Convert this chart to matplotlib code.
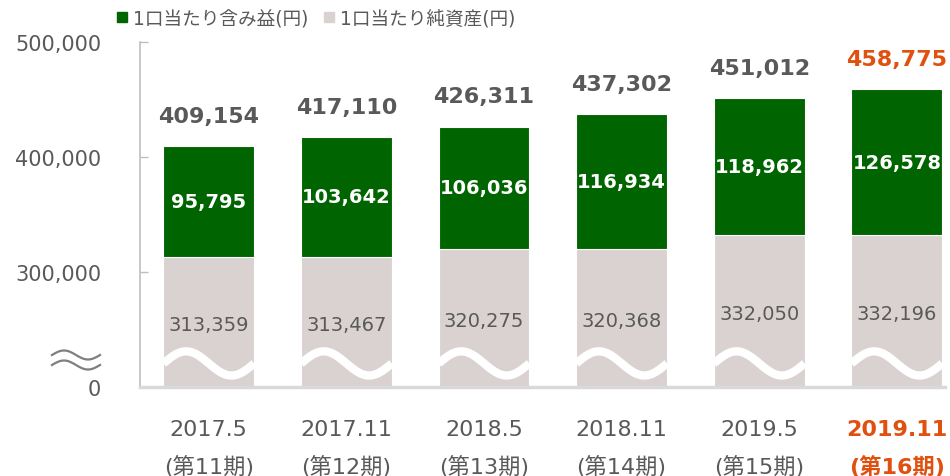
#!/usr/bin/env python3
# Per-unit NAV and unrealized gain, stacked bars with a broken y axis.
import numpy as np
import matplotlib
matplotlib.use("Agg")
import matplotlib.pyplot as plt
from matplotlib.lines import Line2D

plt.rcParams["font.family"] = ["DejaVu Sans", "Noto Sans CJK JP"]

dates = ["2017.5", "2017.11", "2018.5", "2018.11", "2019.5", "2019.11"]
periods = ["(第11期)", "(第12期)", "(第13期)", "(第14期)", "(第15期)", "(第16期)"]
nav = [313359, 313467, 320275, 320368, 332050, 332196]
gain = [95795, 103642, 106036, 116934, 118962, 126578]
total = [409154, 417110, 426311, 437302, 451012, 458775]

# value drawn at the "0" tick (axis is broken below 300,000)
base = 200000
yticks = [base, 300000, 400000, 500000]
ytick_labels = ["0", "300,000", "400,000", "500,000"]

GREEN = "#006400"
GRAY = "#D9D2D0"
TEXT = "#595959"
ORANGE = "#E0500F"

fig = plt.figure(figsize=(9.5, 4.77), dpi=100)
ax = fig.add_axes([140 / 950, 89 / 477, 805 / 950, 345 / 477])

x = np.arange(len(dates))
width = 0.66
nav_h = [v - base for v in nav]
ax.bar(x, nav_h, width, bottom=base, color=GRAY, edgecolor="white", linewidth=0.8, zorder=2)
ax.bar(x, gain, width, bottom=nav, color=GREEN, edgecolor="white", linewidth=0.8, zorder=2)

# white wavy break line through each bar
t = np.linspace(0, 1, 120)
for xi in x:
    xs = xi - width / 2 + t * width
    ys = 220500 + 10500 * np.sin(2 * np.pi * t)
    ax.plot(xs, ys, color="white", lw=6, solid_capstyle="butt", zorder=3)

for i in range(len(x)):
    last = i == len(x) - 1
    ax.annotate(f"{total[i]:,}", (x[i], total[i]), xytext=(0, 22), textcoords="offset points",
                ha="center", va="center", fontsize=16, fontweight="bold",
                color=ORANGE if last else TEXT)
    ax.text(x[i], nav[i] + gain[i] / 2, f"{gain[i]:,}", ha="center", va="center",
            fontsize=14, fontweight="bold", color="white", zorder=4)
    ax.text(x[i], (base + nav[i]) / 2 - 2500, f"{nav[i]:,}", ha="center", va="center",
            fontsize=14, color=TEXT, zorder=4)
    ax.annotate(dates[i], (x[i], 0), xycoords=("data", "axes fraction"),
                xytext=(0, -30), textcoords="offset points", ha="center", va="center",
                fontsize=16, color=ORANGE if last else TEXT,
                fontweight="bold" if last else "normal")
    ax.annotate(periods[i], (x[i], 0), xycoords=("data", "axes fraction"),
                xytext=(0, -57), textcoords="offset points", ha="center", va="center",
                fontsize=16, color=ORANGE if last else TEXT,
                fontweight="bold" if last else "normal")

ax.set_xlim(-0.5, 5.35)
ax.set_ylim(base, 500000)
ax.set_xticks([])
ax.set_yticks(yticks)
ax.set_yticklabels(ytick_labels)
ax.tick_params(axis="y", direction="in", length=6, width=1, color="#BFBFBF",
               labelsize=15, labelcolor=TEXT, pad=28)
for s in ["top", "right"]:
    ax.spines[s].set_visible(False)
ax.spines["left"].set_color("#BFBFBF")
ax.spines["left"].set_linewidth(1.2)
ax.spines["bottom"].set_color("#D9D9D9")
ax.spines["bottom"].set_linewidth(2.5)
ax.spines["bottom"].set_zorder(5)

# "≈" break mark next to the y axis
tt = np.linspace(0, 1, 60)
for cy in (356, 366):
    px = 52 + 48 * tt
    py = cy - 4.5 * np.sin(2 * np.pi * tt)
    fig.add_artist(Line2D(px / 950, 1 - py / 477, color="#7F7F7F", lw=1.6,
                          transform=fig.transFigure))

handles = [
    Line2D([], [], marker="s", linestyle="none", markersize=7, color=GREEN),
    Line2D([], [], marker="s", linestyle="none", markersize=7, color=GRAY),
]
fig.legend(handles, ["1口当たり含み益(円)", "1口当たり純資産(円)"], loc="upper left",
           bbox_to_anchor=(116 / 950, 1 - 10 / 477), ncol=2, frameon=False,
           fontsize=13.4, labelcolor=TEXT, handlelength=0.6, handletextpad=0.3,
           columnspacing=0.8, borderpad=0, borderaxespad=0)

fig.savefig("out.png", dpi=100)
